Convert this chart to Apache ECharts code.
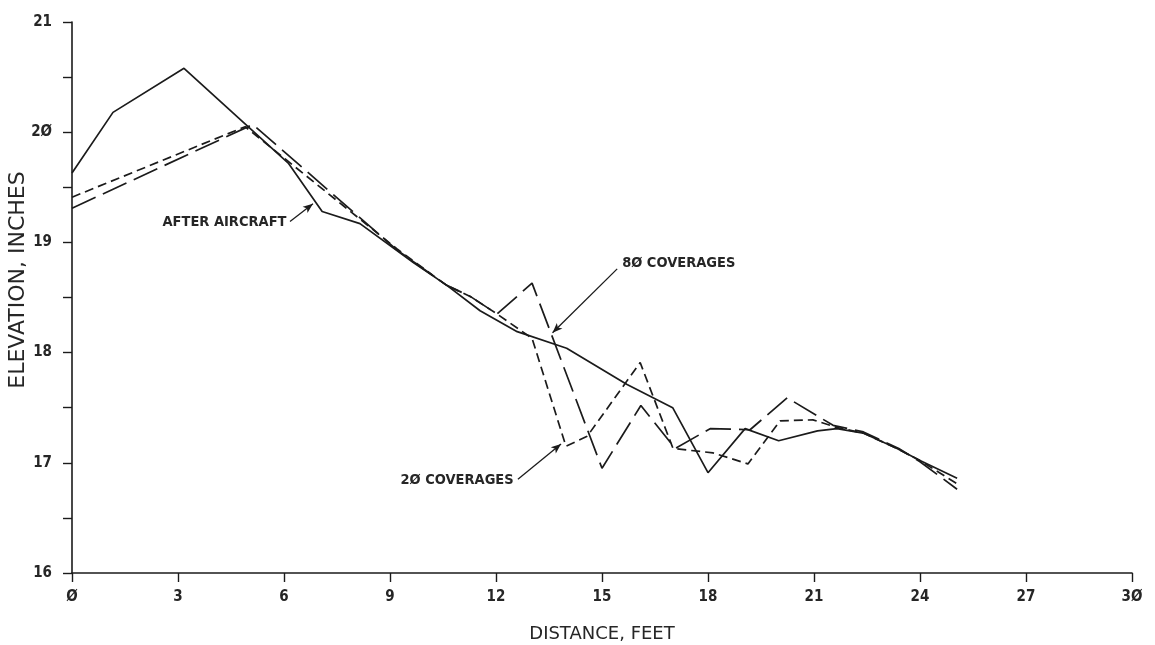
<!DOCTYPE html>
<html>
<head>
<meta charset="utf-8">
<title>Elevation profile</title>
<script src="https://cdn.jsdelivr.net/npm/echarts@6/dist/echarts.min.js"></script>
<style>
  html, body { margin: 0; padding: 0; background: #ffffff; }
  #chart { width: 1155px; height: 645px; }
</style>
</head>
<body>
<div id="chart"></div>
<script>
// Axis ticks
const distanceTicks = [0, 3, 6, 9, 12, 15, 18, 21, 24, 27, 30];   // feet
const elevationTicks = [16, 17, 18, 19, 20, 21];                   // inches

// Surface profiles: [distance (ft), elevation (in)]
const afterAircraft = [
  [0, 19.63], [1.16, 20.18], [3.17, 20.58], [6.12, 19.72], [7.08, 19.28],
  [8.15, 19.17], [9.65, 18.82], [10.61, 18.61], [11.55, 18.38], [12.6, 18.19],
  [14.0, 18.04], [15.71, 17.71], [17.0, 17.5], [18.0, 16.91], [19.05, 17.31],
  [20.0, 17.2], [21.1, 17.29], [21.65, 17.31], [22.39, 17.27], [23.35, 17.13],
  [24.0, 17.02], [25.05, 16.86]
];
const coverages20 = [
  [0, 19.41], [4.9, 20.05], [9.2, 18.94], [10.6, 18.61], [11.27, 18.51],
  [12.03, 18.35], [13.02, 18.13], [13.98, 17.15], [14.58, 17.24], [16.08, 17.91],
  [17.01, 17.13], [18.14, 17.09], [19.13, 16.99], [20.04, 17.38], [20.97, 17.39],
  [21.65, 17.32], [22.39, 17.27], [23.35, 17.13], [24.0, 17.02], [25.05, 16.81]
];
const coverages80 = [
  [0, 19.31], [5.12, 20.07], [9.2, 18.93], [10.61, 18.61], [11.27, 18.51],
  [12.03, 18.35], [13.02, 18.63], [15.0, 16.95], [16.1, 17.52], [17.07, 17.13],
  [18.06, 17.31], [19.19, 17.3], [20.24, 17.59], [21.54, 17.34], [22.4, 17.28],
  [23.4, 17.13], [24.0, 17.01], [25.05, 16.76]
];

// Callouts: text anchor, leader start, leader tip (data units)
const calloutAfter = { text: 'AFTER AIRCRAFT', anchor: [6.14, 19.18], from: [6.17, 19.19], to: [6.82, 19.35], side: 'left' };
const callout80 = { text: '80 COVERAGES', anchor: [15.5, 18.81], from: [15.43, 18.76], to: [13.6, 18.18], side: 'right' };
const callout20 = { text: '20 COVERAGES', anchor: [12.57, 16.84], from: [12.62, 16.85], to: [13.84, 17.17], side: 'left' };

// Plotter-style slashed zero
const slashZero = s => String(s).replace(/0/g, '\u00D8');

const ink = '#1b1b1b';
const plotFont = '"DejaVu Sans Condensed", "Liberation Sans Narrow", sans-serif';

function callout(c) {
  return {
    markLine: {
      silent: true,
      animation: false,
      symbol: ['none', 'arrow'],
      symbolSize: [6, 10],
      label: { show: false },
      lineStyle: { color: ink, width: 1.3, type: 'solid' },
      data: [[{ coord: c.from }, { coord: c.to }]]
    },
    markPoint: {
      silent: true,
      animation: false,
      symbol: 'circle',
      symbolSize: 1,
      itemStyle: { color: 'rgba(0,0,0,0)' },
      label: {
        show: true,
        position: c.side,
        distance: 2,
        formatter: slashZero(c.text),
        fontFamily: plotFont,
        fontWeight: 'bold',
        fontSize: 14.5,
        color: '#262626'
      },
      data: [{ coord: c.anchor }]
    }
  };
}

function profile(name, data, dash, c) {
  return Object.assign({
    name: name,
    type: 'line',
    data: data,
    showSymbol: false,
    symbol: 'none',
    smooth: false,
    clip: false,
    lineStyle: { color: ink, width: 1.7, type: dash },
    z: 3
  }, c ? callout(c) : {});
}

const chart = echarts.init(document.getElementById('chart'), null, { renderer: 'canvas' });

chart.setOption({
  animation: false,
  backgroundColor: '#ffffff',
  grid: { left: 72, right: 23, top: 22, bottom: 72, containLabel: false, outerBoundsMode: 'none' },
  xAxis: {
    type: 'value',
    min: distanceTicks[0],
    max: distanceTicks[distanceTicks.length - 1],
    interval: distanceTicks[1] - distanceTicks[0],
    axisLine: { show: true, onZero: false, lineStyle: { color: ink, width: 1.6 } },
    axisTick: { show: true, inside: false, length: 9, lineStyle: { color: ink, width: 1.4 } },
    splitLine: { show: false },
    axisLabel: {
      margin: 17,
      formatter: v => slashZero(v),
      fontFamily: plotFont,
      fontWeight: 'bold',
      fontSize: 15,
      color: '#262626'
    },
    name: 'DISTANCE, FEET',
    nameLocation: 'middle',
    nameGap: 52,
    nameTextStyle: { fontFamily: '"DejaVu Sans", sans-serif', fontSize: 18, color: '#262626' }
  },
  yAxis: {
    type: 'value',
    min: elevationTicks[0],
    max: elevationTicks[elevationTicks.length - 1],
    interval: elevationTicks[1] - elevationTicks[0],
    axisLine: { show: true, onZero: false, lineStyle: { color: ink, width: 1.6 } },
    axisTick: { show: true, inside: false, length: 9, lineStyle: { color: ink, width: 1.4 } },
    minorTick: { show: true, splitNumber: 2, length: 9, lineStyle: { color: ink, width: 1.4 } },
    splitLine: { show: false },
    axisLabel: {
      margin: 20,
      formatter: v => slashZero(v),
      fontFamily: plotFont,
      fontWeight: 'bold',
      fontSize: 15,
      color: '#262626'
    }
  },
  graphic: [{
    type: 'text',
    x: 18,
    y: 280,
    rotation: Math.PI / 2,
    style: {
      text: 'ELEVATION, INCHES',
      align: 'center',
      verticalAlign: 'middle',
      fontFamily: '"DejaVu Sans", sans-serif',
      fontSize: 22,
      fill: '#262626'
    }
  }],
  series: [
    profile('After aircraft', afterAircraft, 'solid', calloutAfter),
    profile('20 coverages', coverages20, [9, 5], callout20),
    profile('80 coverages', coverages80, [26, 8], callout80)
  ]
});
</script>
</body>
</html>
